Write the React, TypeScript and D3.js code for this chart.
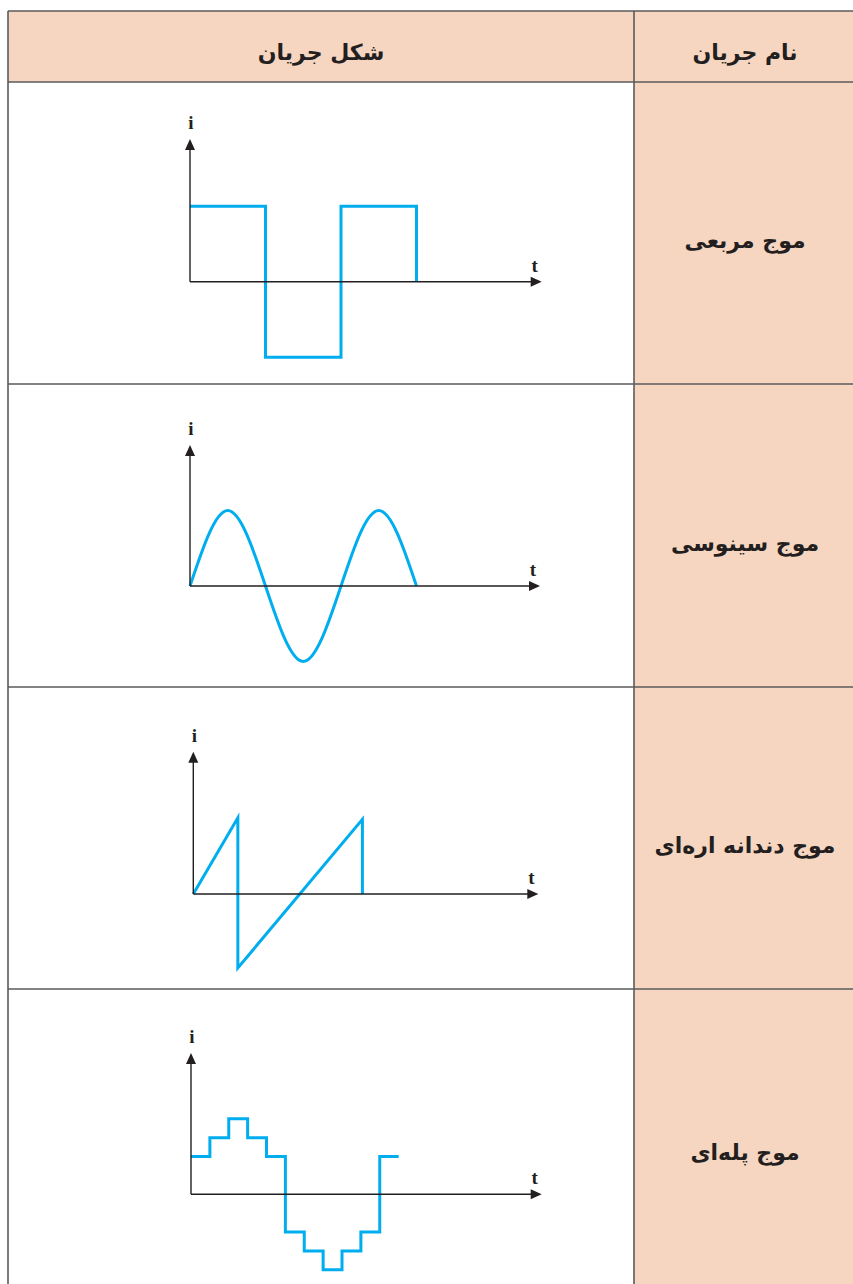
import React from 'react';
import * as d3 from 'd3';

// table text
const headerLabels = ['شکل جریان', 'نام جریان'];
const waveNames = ['موج مربعی', 'موج سینوسی', 'موج دندانه اره‌ای', 'موج پله‌ای'];

// waveforms: t in half-periods, i normalised to peak
const squareT = [0, 1, 1, 2, 2, 3, 3];
const squareI = [1, 1, -1, -1, 1, 1, 0];

const sineT = [0, 0.5, 1, 1.5, 2, 2.5, 3];
const sineI = [0, 1, 0, -1, 0, 1, 0];

const sawT = [0, 0.59, 0.59, 2.24, 2.24];
const sawI = [0, 1.01, -0.98, 0.99, 0];

const stepT = [0, 0.25, 0.5, 0.75, 1, 1.25, 1.5, 1.75, 2, 2.25, 2.5, 2.75];
const stepI = [0.5, 0.75, 1, 0.75, 0.5, -0.5, -0.75, -1, -0.75, -0.5, 0.5, 0.5];

const W = 853;
const H = 1284;
const left = 8;
const split = 634;
const right = 870;
const rowLines = [11, 82, 384, 687, 989, 1300];
const peach = '#f7d6c1';
const grid = '#5a5a5a';
const blue = '#00aeef';
const ink = '#231f20';

// axis origin and arrow tips per panel
const panels = [
  { t: squareT, i: squareI, curve: d3.curveLinear, x0: 190, y0: 281.7, tipY: 139, tipX: 541.7 },
  { t: sineT, i: sineI, curve: d3.curveNatural, x0: 190, y0: 586, tipY: 445, tipX: 540 },
  { t: sawT, i: sawI, curve: d3.curveLinear, x0: 193.3, y0: 894, tipY: 751.7, tipX: 538.3 },
  { t: stepT, i: stepI, curve: d3.curveStepAfter, x0: 191, y0: 1194.3, tipY: 1053, tipX: 541.7 },
];
const unit = 75.5;

const Panel = ({ p }: { p: typeof panels[number] }) => {
  const x = d3.scaleLinear().domain([0, 1]).range([p.x0, p.x0 + unit]);
  const y = d3.scaleLinear().domain([0, 1]).range([p.y0, p.y0 - unit]);
  const pts: [number, number][] = p.t.map((t, k) => [t, p.i[k]]);
  const line = d3.line<[number, number]>()
    .x(d => x(d[0]))
    .y(d => y(d[1]))
    .curve(p.curve);
  const ah = 11, aw = 5;
  return (
    <g>
      <path d={line(pts) || ''} fill="none" stroke={blue} strokeWidth={3} strokeLinejoin="miter" />
      <line x1={p.x0} y1={p.y0} x2={p.tipX - ah + 1} y2={p.y0} stroke={ink} strokeWidth={1.4} />
      <line x1={p.x0} y1={p.y0} x2={p.x0} y2={p.tipY + ah - 1} stroke={ink} strokeWidth={1.4} />
      <path d={`M${p.tipX},${p.y0} L${p.tipX - ah},${p.y0 - aw} L${p.tipX - ah},${p.y0 + aw} Z`} fill={ink} />
      <path d={`M${p.x0},${p.tipY} L${p.x0 - aw},${p.tipY + ah} L${p.x0 + aw},${p.tipY + ah} Z`} fill={ink} />
      <text x={p.x0 + 1} y={p.tipY - 10} textAnchor="middle" fontFamily="Liberation Serif" fontWeight="bold" fontSize={19} fill={ink}>i</text>
      <text x={p.tipX - 7} y={p.y0 - 10} textAnchor="middle" fontFamily="Liberation Serif" fontWeight="bold" fontSize={19} fill={ink}>t</text>
    </g>
  );
};

const App = () => {
  const labelFont = { fontFamily: 'DejaVu Sans', fontWeight: 'bold' as const, fontSize: 22 };
  return (
    <svg width={W} height={H} style={{ position: 'absolute', left: 0, top: 0, display: 'block', background: '#fff' }}>
      <rect x={left} y={rowLines[0]} width={right - left} height={rowLines[1] - rowLines[0]} fill={peach} />
      <rect x={split} y={rowLines[1]} width={right - split} height={rowLines[5] - rowLines[1]} fill={peach} />
      {rowLines.slice(0, 5).map((ly, k) => (
        <line key={k} x1={left} x2={right} y1={ly} y2={ly} stroke={grid} strokeWidth={1.6} />
      ))}
      <line x1={left} x2={left} y1={rowLines[0]} y2={H} stroke={grid} strokeWidth={1.6} />
      <line x1={split} x2={split} y1={rowLines[0]} y2={H} stroke={grid} strokeWidth={1.6} />
      <text x={(left + split) / 2} y={60} textAnchor="middle" direction="rtl" fill={ink} {...labelFont}>{headerLabels[0]}</text>
      <text x={745} y={60} textAnchor="middle" direction="rtl" fill={ink} {...labelFont}>{headerLabels[1]}</text>
      {waveNames.map((n, k) => (
        <text key={n} x={745} y={(rowLines[k + 1] + rowLines[k + 2]) / 2 + 15} textAnchor="middle" direction="rtl" fill={ink} {...labelFont}>{n}</text>
      ))}
      {panels.map((p, k) => <Panel key={k} p={p} />)}
    </svg>
  );
};

export default App;
